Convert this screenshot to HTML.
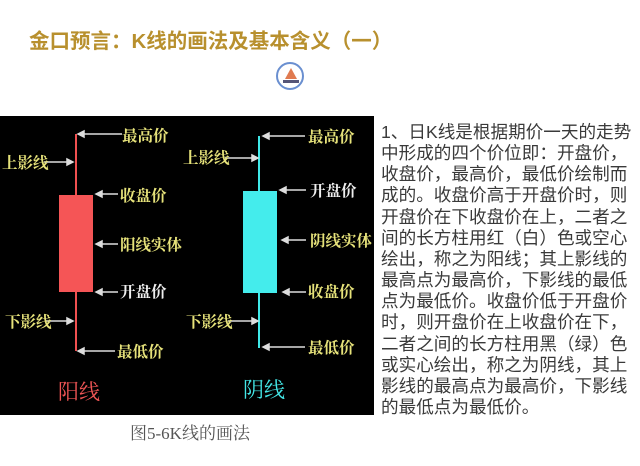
<!DOCTYPE html><html><head><meta charset="utf-8"><style>
body{margin:0;width:640px;height:466px;background:#fff;position:relative;overflow:hidden;font-family:"Liberation Sans","Noto Sans CJK SC",sans-serif}
.a{position:absolute;white-space:nowrap}
.t{left:29px;top:24px;font-size:20.5px;font-weight:bold;color:#b8902e}
.r{left:381px;font-size:17.6px;color:#3a3a3a;line-height:21.15px}
.l{font-size:15.5px;font-weight:bold;color:#e6e27a;font-family:"Noto Serif CJK SC",serif;line-height:16px}
</style></head><body>
<div class="a t">金口预言：K线的画法及基本含义（一）</div>
<div class="a" style="left:276px;top:62px;width:28px;height:28px;border-radius:50%;border:2px solid #6a8fd0;box-sizing:border-box;background:#fff">
<div style="position:absolute;left:7px;top:4px;width:0;height:0;border-left:6px solid transparent;border-right:6px solid transparent;border-bottom:11px solid #e07a50"></div>
<div style="position:absolute;left:5px;top:16px;width:16px;height:3px;background:#557"></div></div>
<svg class="a" style="left:0;top:116px" width="374" height="299">
<rect width="374" height="299" fill="#000"/>
<g transform="translate(0,-116)">
<line x1="76" y1="134" x2="76" y2="351" stroke="#f05050" stroke-width="2"/>
<rect x="59" y="195" width="34" height="97" fill="#f55556"/>
<line x1="259" y1="136" x2="259" y2="348" stroke="#40e8e8" stroke-width="2"/>
<rect x="243" y="191" width="34" height="102" fill="#44ecec"/>
<g stroke="#ddd" stroke-width="1.5" fill="#ddd">
<line x1="122" y1="134" x2="80" y2="134"/><path d="M78 134l6-3v6z"/>
<line x1="44" y1="162" x2="70" y2="162"/><path d="M73 162l-6-3v6z"/>
<line x1="118" y1="194" x2="98" y2="194"/><path d="M96 194l6-3v6z"/>
<line x1="118" y1="244" x2="98" y2="244"/><path d="M96 244l6-3v6z"/>
<line x1="118" y1="292" x2="98" y2="292"/><path d="M96 292l6-3v6z"/>
<line x1="45" y1="321" x2="70" y2="321"/><path d="M73 321l-6-3v6z"/>
<line x1="115" y1="351" x2="80" y2="351"/><path d="M78 351l6-3v6z"/>
<line x1="305" y1="136" x2="265" y2="136"/><path d="M263 136l6-3v6z"/>
<line x1="225" y1="158" x2="255" y2="158"/><path d="M258 158l-6-3v6z"/>
<line x1="306" y1="190" x2="282" y2="190"/><path d="M280 190l6-3v6z"/>
<line x1="306" y1="240" x2="284" y2="240"/><path d="M282 240l6-3v6z"/>
<line x1="306" y1="292" x2="285" y2="292"/><path d="M283 292l6-3v6z"/>
<line x1="228" y1="321" x2="255" y2="321"/><path d="M258 321l-6-3v6z"/>
<line x1="305" y1="347" x2="265" y2="347"/><path d="M263 347l6-3v6z"/>
</g></g></svg>
<div class="a l" style="left:122px;top:127px">最高价</div>
<div class="a l" style="left:2px;top:154px">上影线</div>
<div class="a l" style="left:120px;top:187px">收盘价</div>
<div class="a l" style="left:120px;top:236px">阳线实体</div>
<div class="a l" style="left:120px;top:283px;color:#eee">开盘价</div>
<div class="a l" style="left:5px;top:313px">下影线</div>
<div class="a l" style="left:117px;top:343px">最低价</div>
<div class="a l" style="left:308px;top:128px">最高价</div>
<div class="a l" style="left:183px;top:149px">上影线</div>
<div class="a l" style="left:310px;top:182px;color:#eee">开盘价</div>
<div class="a l" style="left:310px;top:232px">阴线实体</div>
<div class="a l" style="left:308px;top:283px">收盘价</div>
<div class="a l" style="left:186px;top:313px">下影线</div>
<div class="a l" style="left:308px;top:339px">最低价</div>
<div class="a" style="left:58px;top:376px;font-size:21px;color:#f05555;font-family:'Noto Serif CJK SC',serif">阳线</div>
<div class="a" style="left:243px;top:374px;font-size:21px;color:#44e8e8;font-family:'Noto Serif CJK SC',serif">阴线</div>
<div class="a" style="left:130px;top:419px;font-size:17px;color:#555;font-family:'Liberation Serif','Noto Serif CJK SC',serif">图5-6K线的画法</div>
<div class="a r" style="top:122px">1、日K线是根据期价一天的走势<br>中形成的四个价位即：开盘价，<br>收盘价，最高价，最低价绘制而<br>成的。收盘价高于开盘价时，则<br>开盘价在下收盘价在上，二者之<br>间的长方柱用红（白）色或空心<br>绘出，称之为阳线；其上影线的<br>最高点为最高价，下影线的最低<br>点为最低价。收盘价低于开盘价<br>时，则开盘价在上收盘价在下，<br>二者之间的长方柱用黑（绿）色<br>或实心绘出，称之为阴线，其上<br>影线的最高点为最高价，下影线<br>的最低点为最低价。</div>
</body></html>
